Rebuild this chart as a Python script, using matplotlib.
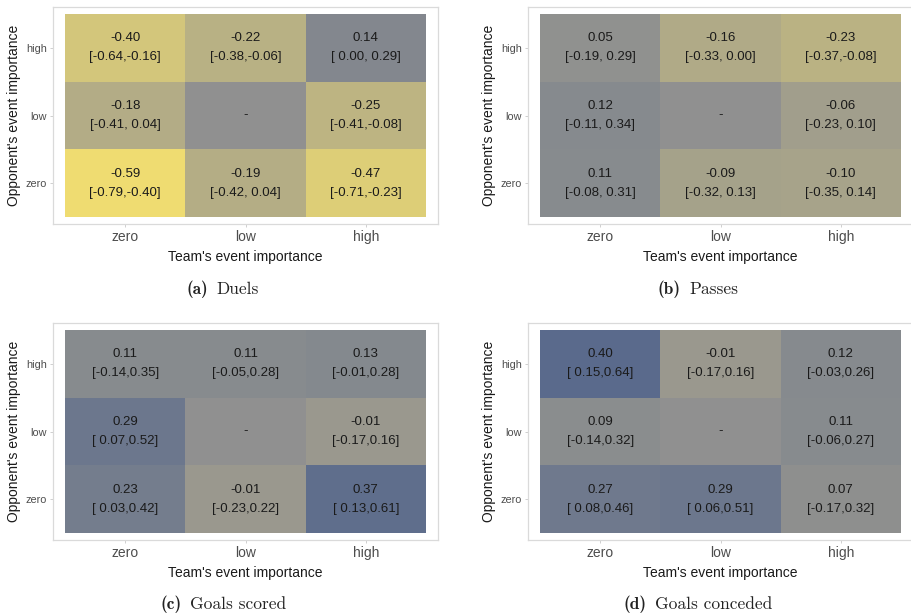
import numpy as np
import matplotlib
matplotlib.use("Agg")
import matplotlib.pyplot as plt
from matplotlib.colors import LinearSegmentedColormap, Normalize

plt.rcParams['font.family'] = ['Liberation Sans', 'DejaVu Sans']

# categories (x = team, y = opponent), rows ordered zero, low, high (bottom to top)
levels = ["zero", "low", "high"]

# estimates, nan = missing cell
duels_est = [[-0.59, -0.19, -0.47], [-0.18, np.nan, -0.25], [-0.40, -0.22, 0.14]]
duels_lo = [[-0.79, -0.42, -0.71], [-0.41, np.nan, -0.41], [-0.64, -0.38, 0.00]]
duels_hi = [[-0.40, 0.04, -0.23], [0.04, np.nan, -0.08], [-0.16, -0.06, 0.29]]

passes_est = [[0.11, -0.09, -0.10], [0.12, np.nan, -0.06], [0.05, -0.16, -0.23]]
passes_lo = [[-0.08, -0.32, -0.35], [-0.11, np.nan, -0.23], [-0.19, -0.33, -0.37]]
passes_hi = [[0.31, 0.13, 0.14], [0.34, np.nan, 0.10], [0.29, 0.00, -0.08]]

scored_est = [[0.23, -0.01, 0.37], [0.29, np.nan, -0.01], [0.11, 0.11, 0.13]]
scored_lo = [[0.03, -0.23, 0.13], [0.07, np.nan, -0.17], [-0.14, -0.05, -0.01]]
scored_hi = [[0.42, 0.22, 0.61], [0.52, np.nan, 0.16], [0.35, 0.28, 0.28]]

conceded_est = [[0.27, 0.29, 0.07], [0.09, np.nan, 0.11], [0.40, -0.01, 0.12]]
conceded_lo = [[0.08, 0.06, -0.17], [-0.14, np.nan, -0.06], [0.15, -0.17, -0.03]]
conceded_hi = [[0.46, 0.51, 0.32], [0.32, np.nan, 0.27], [0.64, 0.16, 0.26]]

panel_tags = ["(a)", "(b)", "(c)", "(d)"]
panel_names = ["Duels", "Passes", "Goals scored", "Goals conceded"]

panels = [
    (duels_est, duels_lo, duels_hi, True),
    (passes_est, passes_lo, passes_hi, True),
    (scored_est, scored_lo, scored_hi, False),
    (conceded_est, conceded_lo, conceded_hi, False),
]

W, H = 911, 616
fig = plt.figure(figsize=(W / 100, H / 100), dpi=100)

cmap = LinearSegmentedColormap.from_list("yg_b", ["#F0DD71", "#98978F", "#3C548A"])
cmap.set_bad("#909090")
norm = Normalize(-0.6, 0.6)

# panel rectangles in pixels: left, top, right, bottom
rects = [(53, 7, 438, 224), (528, 7, 913, 224), (53, 323, 438, 540), (528, 323, 913, 540)]
cap_pos = [(223, 289), (698, 289), (223, 604), (698, 604)]

for i, (est, lo, hi, spaced) in enumerate(panels):
    l, t, r, b = rects[i]
    ax = fig.add_axes([l / W, 1 - b / H, (r - l) / W, (b - t) / H])
    z = np.ma.masked_invalid(np.array(est))
    ax.pcolormesh(np.arange(-0.5, 3), np.arange(-0.5, 3), z, cmap=cmap, norm=norm,
                  shading="flat")
    for yi in range(3):
        for xi in range(3):
            v = est[yi][xi]
            if np.isnan(v):
                ax.text(xi, yi, "-", ha="center", va="center", fontsize=9.5, color="#1A1A1A")
                continue
            if spaced:
                ci = "[" + f"{lo[yi][xi]:5.2f}" + "," + f"{hi[yi][xi]:5.2f}" + "]"
            else:
                ci = "[" + f"{lo[yi][xi]:5.2f}" + "," + f"{hi[yi][xi]:.2f}" + "]"
            ax.text(xi, yi + 0.14, f"{v:.2f}", ha="center", va="center",
                    fontsize=9.5, color="#1A1A1A")
            ax.text(xi, yi - 0.14, ci, ha="center", va="center",
                    fontsize=9.5, color="#1A1A1A")
    ax.set_xlim(-0.6, 2.6)
    ax.set_ylim(-0.6, 2.6)
    ax.set_xticks(range(3))
    ax.set_yticks(range(3))
    ax.set_xticklabels(levels, fontsize=10, color="#4D4D4D")
    ax.set_yticklabels(levels, fontsize=7.8, color="#4D4D4D")
    ax.tick_params(length=2.5, width=0.6, color="#C8C8C8", pad=2)
    for s in ax.spines.values():
        s.set_color("#DADADA")
        s.set_linewidth(0.9)
    ax.set_xlabel("Team's event importance", fontsize=10, color="#1A1A1A", labelpad=4)
    ax.set_ylabel("Opponent's event importance", fontsize=10, color="#1A1A1A", labelpad=3)

# captions: bold tag + roman name, centred as a pair
renderer = fig.canvas.get_renderer()
gap = 8
for i in range(4):
    cx, cy = cap_pos[i]
    tag = fig.text(0, 1 - cy / H, panel_tags[i], family="cmb10", fontsize=12.5,
                   ha="left", va="center", color="#222222")
    name = fig.text(0, 1 - cy / H, panel_names[i], family="cmr10", fontsize=12.5,
                    ha="left", va="center", color="#222222")
    wt = tag.get_window_extent(renderer).width
    wn = name.get_window_extent(renderer).width
    x0 = cx - (wt + gap + wn) / 2
    tag.set_x(x0 / W)
    name.set_x((x0 + wt + gap) / W)

fig.savefig("out.png", dpi=100)
